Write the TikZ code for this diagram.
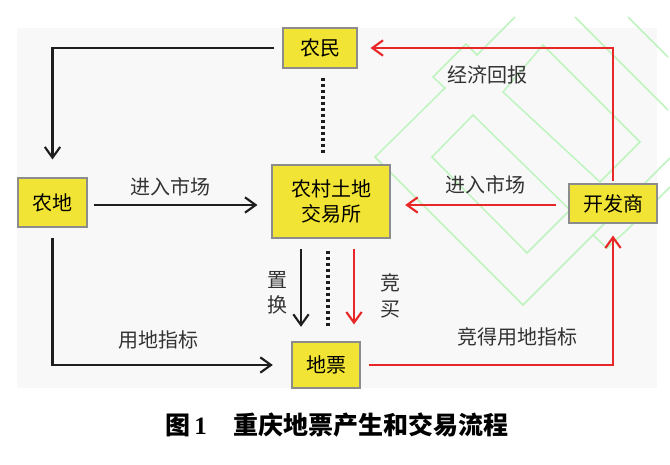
\documentclass[tikz,border=0pt]{standalone}
\usepackage{fontspec}
\setmainfont{Liberation Serif}
\newfontfamily\cjk{Noto Sans CJK SC}
\usetikzlibrary{arrows.meta,calc}
\definecolor{boxy}{RGB}{242,228,52}
\definecolor{boxb}{RGB}{140,140,140}
\definecolor{redl}{RGB}{232,40,40}
\definecolor{blkl}{RGB}{30,30,30}
\definecolor{wm}{RGB}{190,245,190}
\definecolor{panel}{RGB}{248,248,248}
\tikzset{
  box/.style={draw=boxb,line width=0.8pt,fill=boxy,inner sep=0pt,
    font=\cjk\fontsize{15}{19}\selectfont,align=center},
  lbl/.style={font=\cjk\fontsize{15}{19}\selectfont,text=black!80,inner sep=0pt,align=center},
  arr/.style={line width=1.6pt,-{Straight Barb[length=8pt,width=11.5pt,line width=1.6pt]}},
  blkarr/.style={arr,draw=blkl},
  redarr/.style={arr,draw=redl},
  dotln/.style={draw=blkl,line width=2.6pt,dash pattern=on 2.6pt off 1.9pt},
  wmline/.style={draw=wm,line width=1.1pt,line join=miter}
}
\begin{document}
\begin{tikzpicture}[x=0.75pt,y=-0.75pt]
\useasboundingbox (0,0) rectangle (670,464);
\fill[panel] (17,28) rectangle (657,388);
% watermark
\draw[wmline] (432,157) -- (473,115) -- (570,210) -- (527,253) -- cycle;
\draw[wmline] (515,17) -- (477,55) -- (466,44) -- (433,77) -- (445,88) -- (375,157) -- (523,305) -- (593,235) -- (670,158);
\draw[wmline] (593,235) -- (607,248) -- (627,230) -- (670,187);
\draw[wmline] (503,92) -- (543,45) -- (640,142) -- (600,182) -- cycle;
\draw[wmline] (575,17) -- (668,110);
\draw[wmline] (628,17) -- (668,57);
% nodes
\node[box,minimum width=55.5pt,minimum height=30pt] (nm) at (320,48) {农民};
\node[box,minimum width=51.75pt,minimum height=36.75pt] (nd) at (52.5,202.5) {农地};
\node[box,minimum width=88.5pt,minimum height=54.75pt] (jys) at (331,201.5) {农村土地\\交易所};
\node[box,minimum width=66pt,minimum height=29.25pt] (kfs) at (613,203.5) {开发商};
\node[box,minimum width=51pt,minimum height=34.5pt] (dp) at (326,365) {地票};
% connectors
\draw[blkarr,shorten <=6pt,shorten >=13.5pt] (nm.west) -| (nd.north);
\draw[blkarr,shorten <=4.5pt,shorten >=10.5pt] ($(nd.east)+(0,2.5)$) -- ($(nd.east -| jys.west)+(0,2.5)$);
\draw[redarr,shorten <=9pt,shorten >=11pt] ($(kfs.west)+(0,1.5)$) -- ($(kfs.west -| jys.east)+(0,1.5)$);
\draw[redarr,shorten <=1.5pt,shorten >=9.75pt] (kfs.north) |- (nm.east);
\draw[blkarr,shorten <=8pt,shorten >=14pt] (nd.south) |- (dp.west);
\draw[redarr,shorten <=6pt,shorten >=9pt] (dp.east) -| (kfs.south);
\draw[blkarr,shorten <=8pt,shorten >=11pt] ($(jys.south)+(-30,0)$) -- ($(dp.north)+(-25,0)$);
\draw[dotln,shorten <=9pt,shorten >=11pt] ($(jys.south)+(-3,0)$) -- ($(dp.north)+(2,0)$);
\draw[redarr,shorten <=7.5pt,shorten >=12.75pt] ($(jys.south)+(23,0)$) -- ($(dp.north)+(28,0)$);
\draw[dotln,shorten <=6.75pt,shorten >=7.5pt] ($(nm.south)+(3,0)$) -- ($(jys.north)+(-8,0)$);
% labels
\node[lbl] (l1) at (170,187) {进入市场};
\node[lbl] (l2) at (485,185) {进入市场};
\node[lbl] (l3) at (487,75) {经济回报};
\node[lbl] (l4) at (277,293) {置\\换};
\node[lbl] (l5) at (390,296) {竞\\买};
\node[lbl] (l6) at (158,340) {用地指标};
\node[lbl] (l7) at (517,337) {竞得用地指标};
% caption
\node[inner sep=0pt] (cap) at (337,425) {\fontsize{18.75}{22}\selectfont\bfseries{\cjk 图}\hspace{3pt}1\hspace{20pt}{\cjk 重庆地票产生和交易流程}};
\end{tikzpicture}
\end{document}
